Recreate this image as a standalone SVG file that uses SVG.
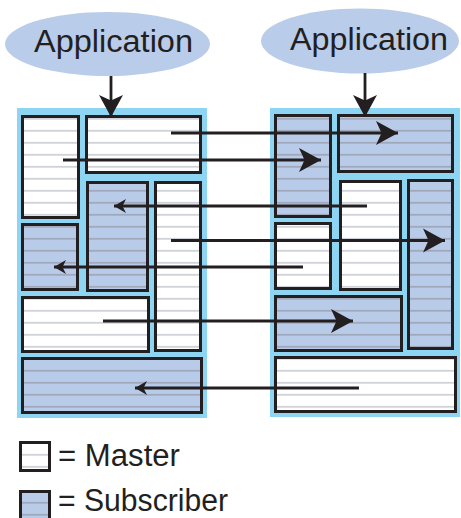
<svg xmlns="http://www.w3.org/2000/svg" width="461" height="518" viewBox="0 0 461 518">
<defs>
<style>
.panel{fill:#8dd5f2}
.m{fill:url(#stripeW);stroke:#231f20;stroke-width:3}
.s{fill:url(#stripeB);stroke:#231f20;stroke-width:3}
.app{fill:#b9cce9}
.lbl{font-family:"Liberation Sans",Arial,sans-serif;font-size:31px;fill:#231f20}
.arr{fill:none;stroke:#231f20;stroke-width:2.8}
</style>
<pattern id="stripeW" patternUnits="userSpaceOnUse" x="0" y="0" width="10" height="12">
<rect width="10" height="12" fill="#ffffff"/>
<rect y="9.9" width="10" height="1.8" fill="#cfd2d6"/>
</pattern>
<pattern id="stripeB" patternUnits="userSpaceOnUse" x="0" y="0" width="10" height="12">
<rect width="10" height="12" fill="#b8cbe8"/>
<rect y="9.9" width="10" height="1.8" fill="#a0a9bb"/>
</pattern>
<marker id="big" viewBox="-23 -13 24 26" markerWidth="24" markerHeight="26" refX="0" refY="0" orient="auto" markerUnits="userSpaceOnUse">
<path d="M0,0 L-22,-12 L-16.5,0 L-22,12 Z" fill="#231f20"/>
</marker>
<marker id="small" viewBox="-13 -8 14 16" markerWidth="14" markerHeight="16" refX="0" refY="0" orient="auto" markerUnits="userSpaceOnUse">
<path d="M0,0 L-12,-7 L-8.5,0 L-12,7 Z" fill="#231f20"/>
</marker>
</defs>

<g id="app-left">
<ellipse class="app" cx="107.5" cy="44" rx="102.5" ry="32"/>
<text class="lbl" x="34" y="52" textLength="159" lengthAdjust="spacingAndGlyphs">Application</text>
</g>
<g id="app-right">
<ellipse class="app" cx="360" cy="41" rx="99" ry="32.5"/>
<text class="lbl" x="290" y="50" textLength="158" lengthAdjust="spacingAndGlyphs">Application</text>
</g>

<g id="panel-left">
<rect class="panel" x="17" y="108" width="190" height="310"/>
<rect id="L1" class="m" x="22.5" y="116.5" width="56" height="101"/>
<rect id="L2" class="m" x="86.5" y="116.5" width="114" height="56"/>
<rect id="L3" class="s" x="87.5" y="182.5" width="60" height="108"/>
<rect id="L4" class="m" x="155.5" y="182.5" width="45" height="168"/>
<rect id="L5" class="s" x="22.5" y="224.5" width="55" height="65"/>
<rect id="L6" class="m" x="22.5" y="297.5" width="126" height="54"/>
<rect id="L7" class="s" x="22.5" y="358.5" width="179" height="54"/>
</g>

<g id="panel-right">
<rect class="panel" x="270" y="108" width="190" height="309"/>
<rect id="R1" class="s" x="275.5" y="115.5" width="55" height="101"/>
<rect id="R2" class="s" x="338.5" y="115.5" width="114" height="56"/>
<rect id="R3" class="m" x="340.5" y="181.5" width="60" height="108"/>
<rect id="R4" class="s" x="408.5" y="180.5" width="44" height="168"/>
<rect id="R5" class="m" x="275.5" y="223.5" width="55" height="65"/>
<rect id="R6" class="s" x="275.5" y="296.5" width="126" height="54"/>
<rect id="R7" class="m" x="275.5" y="357.5" width="180" height="54"/>
</g>

<g id="connectors">
<path class="arr" d="M111,76 V117" marker-end="url(#big)"/>
<path class="arr" d="M365,73 V117" marker-end="url(#big)"/>
<path class="arr" d="M171,133 H398" marker-end="url(#big)"/>
<path class="arr" d="M63,160 H321" marker-end="url(#big)"/>
<path class="arr" d="M367,206 H114" marker-end="url(#small)"/>
<path class="arr" d="M171,240.5 H445" marker-end="url(#big)"/>
<path class="arr" d="M303,267 H54" marker-end="url(#small)"/>
<path class="arr" d="M103,321 H353" marker-end="url(#big)"/>
<path class="arr" d="M359,388 H135" marker-end="url(#small)"/>
</g>

<g id="legend-master">
<rect class="m" x="20.5" y="442.5" width="29" height="28"/>
<text class="lbl" x="58" y="466" textLength="122" lengthAdjust="spacingAndGlyphs">= Master</text>
</g>
<g id="legend-subscriber">
<rect class="s" x="20.5" y="491.5" width="29" height="28"/>
<text class="lbl" x="58" y="511" textLength="170" lengthAdjust="spacingAndGlyphs">= Subscriber</text>
</g>
</svg>
